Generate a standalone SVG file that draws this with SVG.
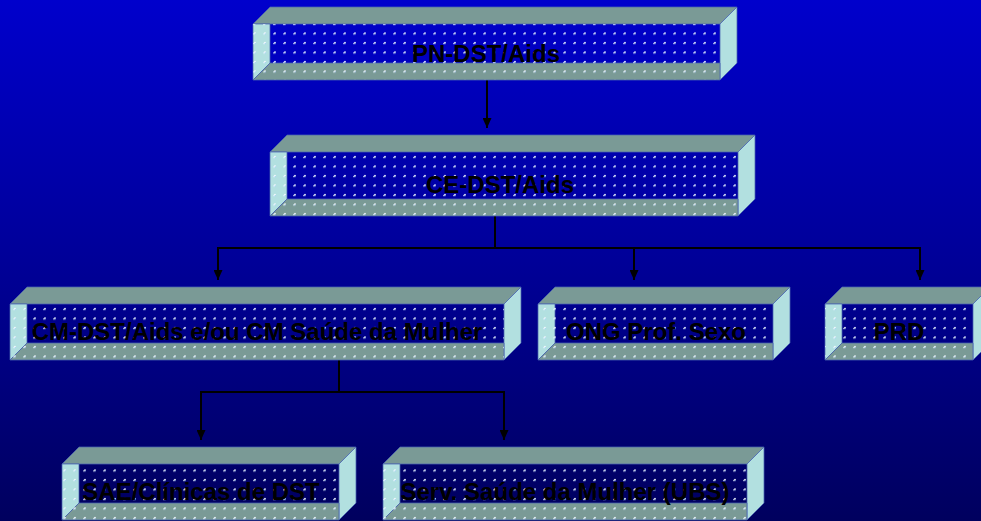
<svg xmlns="http://www.w3.org/2000/svg" width="981" height="521" viewBox="0 0 981 521">
  <defs>
    <linearGradient id="bg" x1="0" y1="0" x2="0" y2="1">
      <stop offset="0" stop-color="#0000CC"/>
      <stop offset="0.5" stop-color="#000098"/>
      <stop offset="1" stop-color="#00005E"/>
    </linearGradient>
    <pattern id="dots" patternUnits="userSpaceOnUse" x="0" y="2" width="10" height="9.5">
      <rect x="3" y="3" width="2" height="1" fill="#e0f0ff" opacity="0.95"/>
      <rect x="4" y="2" width="2" height="1" fill="#ffffff" opacity="0.85"/>
      <rect x="5" y="3" width="1" height="1" fill="#a0c8ff" opacity="0.7"/>
    </pattern>
    <marker id="arr" markerUnits="userSpaceOnUse" markerWidth="10" markerHeight="9" viewBox="0 0 10 9" refX="10" refY="4.5" orient="auto" preserveAspectRatio="none">
      <path d="M0,0 L10,4.5 L0,9 z" fill="#000"/>
    </marker>
  </defs>
  <style>
    .top { fill: #7A9A96; stroke: #4a64b0; stroke-width: 0.75; }
    .side { fill: #B2E0E0; stroke: #4a64b0; stroke-width: 0.75; }
    .dots { fill: url(#dots); }
    .lbl { font-family: "Liberation Sans", Arial, sans-serif; font-weight: bold; font-size: 24px; fill: #000; text-anchor: middle; }
    .conn { fill: none; stroke: #000; stroke-width: 2; }
  </style>
  <rect x="0" y="0" width="981" height="521" fill="url(#bg)"/>

  <g id="connectors">
    <path class="conn" d="M487,80 V128" marker-end="url(#arr)"/>
    <path class="conn" d="M495,216 V248"/>
    <path class="conn" d="M217,248 H921"/>
    <path class="conn" d="M218,248 V280" marker-end="url(#arr)"/>
    <path class="conn" d="M634,248 V280" marker-end="url(#arr)"/>
    <path class="conn" d="M920,248 V280" marker-end="url(#arr)"/>
    <path class="conn" d="M339,360 V392"/>
    <path class="conn" d="M200,392 H505"/>
    <path class="conn" d="M201,392 V440" marker-end="url(#arr)"/>
    <path class="conn" d="M504,392 V440" marker-end="url(#arr)"/>
  </g>

  <g id="pn">
    <polygon class="top" points="253,24 270,7 737,7 720,24"/>
    <polygon class="side" points="720,24 737,7 737,63 720,80"/>
    <polygon class="side" points="253,24 270,24 270,63 253,80"/>
    <polygon class="top" points="253,80 270,63 720,63 720,80"/>
    <rect class="dots" x="253" y="24" width="467" height="56"/>
    <text class="lbl" x="486" y="62">PN-DST/Aids</text>
  </g>

  <g id="ce">
    <polygon class="top" points="270,152 287,135 755,135 738,152"/>
    <polygon class="side" points="738,152 755,135 755,199 738,216"/>
    <polygon class="side" points="270,152 287,152 287,199 270,216"/>
    <polygon class="top" points="270,216 287,199 738,199 738,216"/>
    <rect class="dots" x="270" y="152" width="468" height="64"/>
    <text class="lbl" x="500" y="193">CE-DST/Aids</text>
  </g>

  <g id="cm">
    <polygon class="top" points="10,304 27,287 521,287 504,304"/>
    <polygon class="side" points="504,304 521,287 521,343 504,360"/>
    <polygon class="side" points="10,304 27,304 27,343 10,360"/>
    <polygon class="top" points="10,360 27,343 504,343 504,360"/>
    <rect class="dots" x="10" y="304" width="494" height="56"/>
    <text class="lbl" x="257" y="340">CM-DST/Aids e/ou CM Saúde da Mulher</text>
  </g>

  <g id="ong">
    <polygon class="top" points="538,304 555,287 790,287 773,304"/>
    <polygon class="side" points="773,304 790,287 790,343 773,360"/>
    <polygon class="side" points="538,304 555,304 555,343 538,360"/>
    <polygon class="top" points="538,360 555,343 773,343 773,360"/>
    <rect class="dots" x="538" y="304" width="235" height="56"/>
    <text class="lbl" x="656" y="340">ONG Prof. Sexo</text>
  </g>

  <g id="prd">
    <polygon class="top" points="825,304 842,287 990,287 973,304"/>
    <polygon class="side" points="973,304 990,287 990,343 973,360"/>
    <polygon class="side" points="825,304 842,304 842,343 825,360"/>
    <polygon class="top" points="825,360 842,343 973,343 973,360"/>
    <rect class="dots" x="825" y="304" width="148" height="56"/>
    <text class="lbl" x="899" y="340">PRD</text>
  </g>

  <g id="sae">
    <polygon class="top" points="62,464 79,447 356,447 339,464"/>
    <polygon class="side" points="339,464 356,447 356,503 339,520"/>
    <polygon class="side" points="62,464 79,464 79,503 62,520"/>
    <polygon class="top" points="62,520 79,503 339,503 339,520"/>
    <rect class="dots" x="62" y="464" width="277" height="56"/>
    <text class="lbl" x="201" y="500">SAE/Clínicas de DST</text>
  </g>

  <g id="ubs">
    <polygon class="top" points="383,464 400,447 764,447 747,464"/>
    <polygon class="side" points="747,464 764,447 764,503 747,520"/>
    <polygon class="side" points="383,464 400,464 400,503 383,520"/>
    <polygon class="top" points="383,520 400,503 747,503 747,520"/>
    <rect class="dots" x="383" y="464" width="364" height="56"/>
    <text class="lbl" x="565" y="500">Serv. Saúde da Mulher (UBS)</text>
  </g>
</svg>
